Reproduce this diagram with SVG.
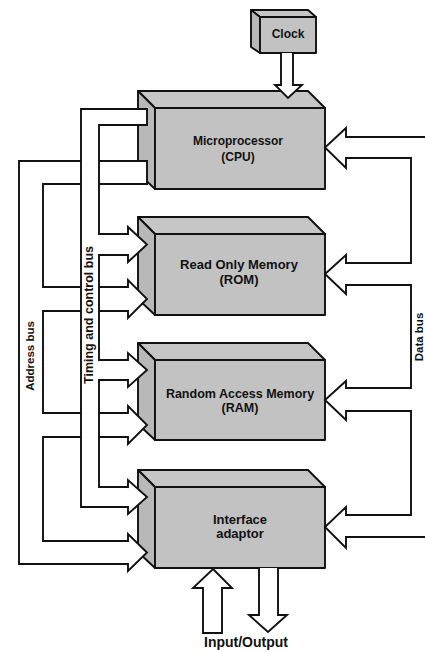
<svg xmlns="http://www.w3.org/2000/svg" width="425" height="652" viewBox="0 0 425 652">
<style>
.face{fill:#c2c2c2;stroke:#111;stroke-width:1.9;stroke-linejoin:round}
.side{fill:#b8b8b8;stroke:#111;stroke-width:1.9;stroke-linejoin:round}
.top{fill:#c6c6c6;stroke:#111;stroke-width:1.9;stroke-linejoin:round}
.bus{fill:#fff;stroke:#111;stroke-width:1.9;stroke-linejoin:miter}
.lbl{font-family:"Liberation Sans",Arial,sans-serif;font-weight:bold;fill:#111;text-anchor:middle}
</style>
<rect width="425" height="652" fill="#fff"/>
<g id="clock">
<polygon class="top" points="251,10 308,10 316,17 260,17"/>
<polygon class="side" points="251,10 260,17 260,53 251,47"/>
<rect class="face" x="260" y="17" width="56" height="36"/>
<text class="lbl" x="288" y="38" font-size="12">Clock</text>
</g>
<g id="cpu">
<polygon class="top" points="138,91 308,91 325,108 155,108"/>
<polygon class="side" points="138,91 155,108 155,189 138,173"/>
<rect class="face" x="155" y="108" width="170" height="81"/>
<text class="lbl" x="238" y="145" font-size="12">Microprocessor</text>
<text class="lbl" x="238" y="161" font-size="12">(CPU)</text>
</g>
<g id="rom">
<polygon class="top" points="138,217 308,217 325,234 155,234"/>
<polygon class="side" points="138,217 155,234 155,315 138,299"/>
<rect class="face" x="155" y="234" width="170" height="81"/>
<text class="lbl" x="239" y="269" font-size="13">Read Only Memory</text>
<text class="lbl" x="239" y="284" font-size="13">(ROM)</text>
</g>
<g id="ram">
<polygon class="top" points="138,343 308,343 325,360 155,360"/>
<polygon class="side" points="138,343 155,360 155,440 138,424"/>
<rect class="face" x="155" y="360" width="170" height="80"/>
<text class="lbl" x="240" y="398" font-size="12.5">Random Access Memory</text>
<text class="lbl" x="240" y="412" font-size="12.5">(RAM)</text>
</g>
<g id="interface">
<polygon class="top" points="138,470 308,470 325,487 155,487"/>
<polygon class="side" points="138,470 155,487 155,568 138,552"/>
<rect class="face" x="155" y="487" width="170" height="81"/>
<text class="lbl" x="240" y="524" font-size="13">Interface</text>
<text class="lbl" x="240" y="538" font-size="13">adaptor</text>
</g>
<g id="connectors">
<polygon id="address-bus" class="bus" points="147,161 19,161 19,564 128,564 128,571 147,552.5 128,534 128,541 43,541 43,437 128,437 128,444 147,425 128,406 128,413 43,413 43,311 128,311 128,318 147,299 128,280 128,287 43,287 43,184 147,184"/>
<polygon id="timing-bus" class="bus" points="147,109 81,109 81,507 128,507 128,514 147,497 128,480 128,487 99,487 99,380 128,380 128,387 147,370 128,353 128,360 99,360 99,255 128,255 128,262 147,244.5 128,227 128,234 99,234 99,125 147,125"/>
<polygon id="data-bus" class="bus" points="440,137 346,137 346,128 325,147.5 346,168 346,158 411,158 411,263 346,263 346,255 325,274 346,294 346,285 411,285 411,388 346,388 346,381 325,400 346,420 346,411 411,411 411,515 346,515 346,507 325,527 346,548 346,537 440,537"/>
<polyline id="clock-arrow" class="bus" points="281,53 281,85 275,85 288,98 302,85 293,85 293,53"/>
<polygon id="input-arrow" class="bus" points="213,569 232,588 222,588 222,633 203,633 203,588 193,588"/>
<polyline id="output-arrow" class="bus" points="259,568 259,615 249,615 268,632 287,615 278,615 278,568"/>
<text class="lbl" font-size="11.5" transform="translate(34,356) rotate(-90)">Address bus</text>
<text class="lbl" font-size="12.5" transform="translate(92.5,315) rotate(-90)">Timing and control bus</text>
<text class="lbl" font-size="11.5" transform="translate(422.5,337) rotate(-90)">Data bus</text>
<text class="lbl" x="246" y="647" font-size="14">Input/Output</text>
</g>
</svg>
